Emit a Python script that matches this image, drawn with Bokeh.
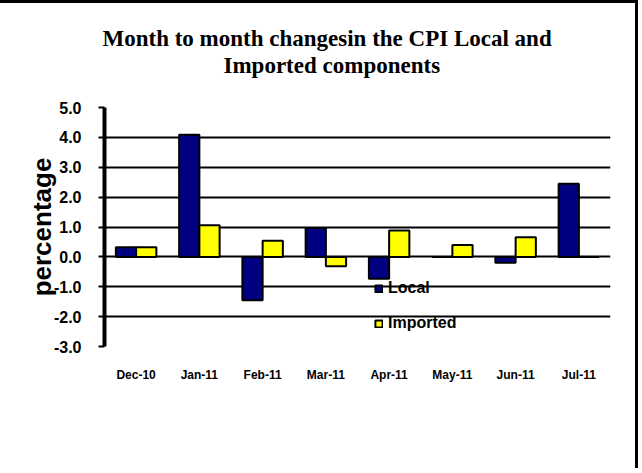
from bokeh.plotting import figure
from bokeh.models import (ColumnDataSource, FixedTicker, NumeralTickFormatter,
                          Title, Legend, LegendItem, Range1d)
from bokeh.transform import dodge
from bokeh.embed import file_html
from bokeh.resources import INLINE

months = ["Dec-10", "Jan-11", "Feb-11", "Mar-11", "Apr-11", "May-11", "Jun-11", "Jul-11"]
local = [0.32, 4.09, -1.45, 0.97, -0.73, 0.0, -0.2, 2.45]
imported = [0.32, 1.06, 0.54, -0.31, 0.88, 0.40, 0.66, 0.0]
y_ticks = [-3, -2, -1, 0, 1, 2, 3, 4, 5]
title_lines = ["Month to month changesin the CPI Local and", "Imported components"]

src = ColumnDataSource(dict(month=months, local=local, imported=imported))

p = figure(x_range=months, y_range=Range1d(-3, 5), width=638, height=468,
           output_backend="svg", toolbar_location=None,
           min_border_left=104, min_border_right=28, min_border_top=104,
           min_border_bottom=125, title=None)
p.styles = {"border-top": "3px solid black", "border-right": "3px solid black"}

bw = 0.32
r_local = p.vbar(x=dodge("month", -bw / 2, range=p.x_range), top="local", bottom=0,
                 width=bw, source=src, fill_color="#000080", line_color="black",
                 line_width=2)
r_imp = p.vbar(x=dodge("month", bw / 2, range=p.x_range), top="imported", bottom=0,
               width=bw, source=src, fill_color="#FFFF00", line_color="black",
               line_width=2)

# spacer between frame and title (closest to the frame), then the two title lines
p.add_layout(Title(text=" ", text_font_size="1px", standoff=27), "above")
title_offsets = [-2, 119]
for txt, off in reversed(list(zip(title_lines, title_offsets))):
    p.add_layout(Title(text=txt, align="left", offset=off, standoff=0,
                       text_font="Liberation Serif", text_font_size="23px",
                       text_line_height=1.0,
                       text_font_style="bold", text_color="black"),
                 "above")

p.outline_line_color = None
p.background_fill_color = "white"
p.border_fill_color = "white"

p.xgrid.grid_line_color = None
p.ygrid.grid_line_color = "black"
p.ygrid.grid_line_width = 2

p.yaxis.ticker = FixedTicker(ticks=y_ticks)
p.yaxis.formatter = NumeralTickFormatter(format="0.0")
p.yaxis.axis_line_width = 4
p.yaxis.axis_line_color = "black"
p.yaxis.major_tick_out = 6
p.yaxis.major_tick_in = 0
p.yaxis.major_tick_line_width = 2
p.yaxis.minor_tick_line_color = None
p.yaxis.major_label_text_font = "Liberation Sans"
p.yaxis.major_label_text_font_style = "bold"
p.yaxis.major_label_text_font_size = "16px"
p.yaxis.major_label_text_color = "black"
p.yaxis.major_label_standoff = 17
p.yaxis.axis_label = "percentage"
p.yaxis.axis_label_text_font = "Liberation Sans"
p.yaxis.axis_label_text_font_style = "bold"
p.yaxis.axis_label_text_font_size = "26px"
p.yaxis.axis_label_text_color = "black"
p.yaxis.axis_label_standoff = -6

p.xaxis.axis_line_color = None
p.xaxis.major_tick_line_color = None
p.xaxis.minor_tick_line_color = None
p.xaxis.major_label_text_font = "Liberation Sans"
p.xaxis.major_label_text_font_style = "bold"
p.xaxis.major_label_text_font_size = "12px"
p.xaxis.major_label_text_color = "black"
p.xaxis.major_label_standoff = 15

legend = Legend(items=[LegendItem(label="Local", renderers=[r_local]),
                       LegendItem(label="Imported", renderers=[r_imp])],
                location=(270, 14), background_fill_alpha=0, border_line_alpha=0,
                padding=0, margin=0, spacing=17, glyph_width=9, glyph_height=9,
                label_standoff=5, label_height=16,
                label_text_font="Liberation Sans", label_text_font_style="bold",
                label_text_font_size="16px", label_text_color="black")
p.add_layout(legend, "center")

open("out.html", "w").write(file_html(p, INLINE))
